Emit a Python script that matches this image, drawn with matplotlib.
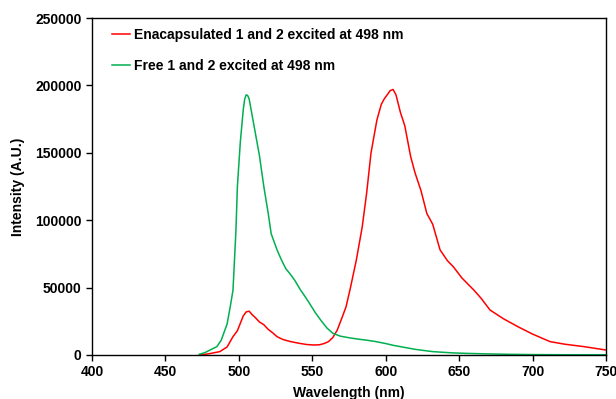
import matplotlib.pyplot as plt
import numpy as np

plt.rcParams['font.family'] = ['Liberation Sans', 'DejaVu Sans']
plt.rcParams['font.weight'] = 'bold'

# emission spectra
free_nm = [473, 477, 480, 485, 488, 492, 494, 496, 498, 499, 501, 503, 504, 505, 506, 507,
           509, 512, 514, 517, 520, 522, 526, 529, 532, 535, 538, 542, 545, 548, 552, 556,
           560, 564, 569, 575, 581, 587, 593, 600, 605, 610, 620, 632, 645, 655, 670, 685, 700, 720, 750]
free_int = [500, 1800, 3500, 6200, 11000, 23000, 35000, 48000, 92000, 125000, 158000, 182000,
            190000, 193000, 192500, 190000, 178000, 160000, 148000, 125000, 105000, 90000,
            78000, 70500, 64000, 60000, 55500, 48200, 43500, 38500, 31500, 25500, 20000, 16100,
            14000, 12800, 11800, 11000, 10000, 8500, 7200, 6200, 4200, 2500, 1600, 1200, 800, 500, 300, 200, 200]

enc_nm = [474, 480, 487, 492, 496, 499, 501, 503, 505, 507, 509, 511, 514, 517, 520, 523,
          526, 530, 535, 541, 546, 551, 555, 558, 561, 564, 567, 570, 573, 576, 580, 584, 587,
          590, 594, 597, 599, 601, 603, 605, 607, 610, 613, 617, 620, 624, 628, 632, 637,
          642, 646, 652, 660, 665, 671, 680, 690, 700, 712, 722, 735, 750]
enc_int = [0, 1000, 2500, 6000, 13600, 18000, 23500, 29000, 32000, 32500, 30000, 28000,
           24500, 22500, 19000, 16500, 13600, 11500, 10000, 8700, 7800, 7400, 7600, 8500, 9900,
           13000, 18500, 27000, 35800, 50000, 70500, 95000, 120000, 150000, 174300, 186000,
           190000, 193000, 196100, 197000, 193000, 180000, 170000, 147100, 135000, 122000,
           105000, 97000, 78000, 70000, 65500, 57000, 48200, 42000, 33400, 27000, 21000, 15500,
           9900, 8000, 6200, 3700]

fig = plt.figure(figsize=(6.16, 3.99), dpi=100)
ax = fig.add_axes([92/616, 1-355/399, 514/616, 337/399])

ax.plot(enc_nm, enc_int, color='#ff0000', lw=1.1, label='Enacapsulated 1 and 2 excited at 498 nm')
ax.plot(free_nm, free_int, color='#00b050', lw=1.1, label='Free 1 and 2 excited at 498 nm')

ax.set_xlim(400, 750)
ax.set_ylim(0, 250000)
ax.set_xticks(np.arange(400, 751, 50))
ax.set_yticks(np.arange(0, 250001, 50000))
ax.tick_params(direction='out', length=4, width=1, labelsize=10, colors='black')
for s in ax.spines.values():
    s.set_linewidth(1)

ax.set_xlabel('Wavelength (nm)', fontsize=10, fontweight='bold', labelpad=5)
ax.set_ylabel('Intensity (A.U.)', fontsize=10, fontweight='bold', labelpad=7)

ax.legend(loc='upper left', frameon=False, fontsize=10, handlelength=1.3, handletextpad=0.3,
          labelspacing=1.25, bbox_to_anchor=(0.02, 1.0), borderaxespad=0.3)

fig.savefig('out.png', dpi=100)
